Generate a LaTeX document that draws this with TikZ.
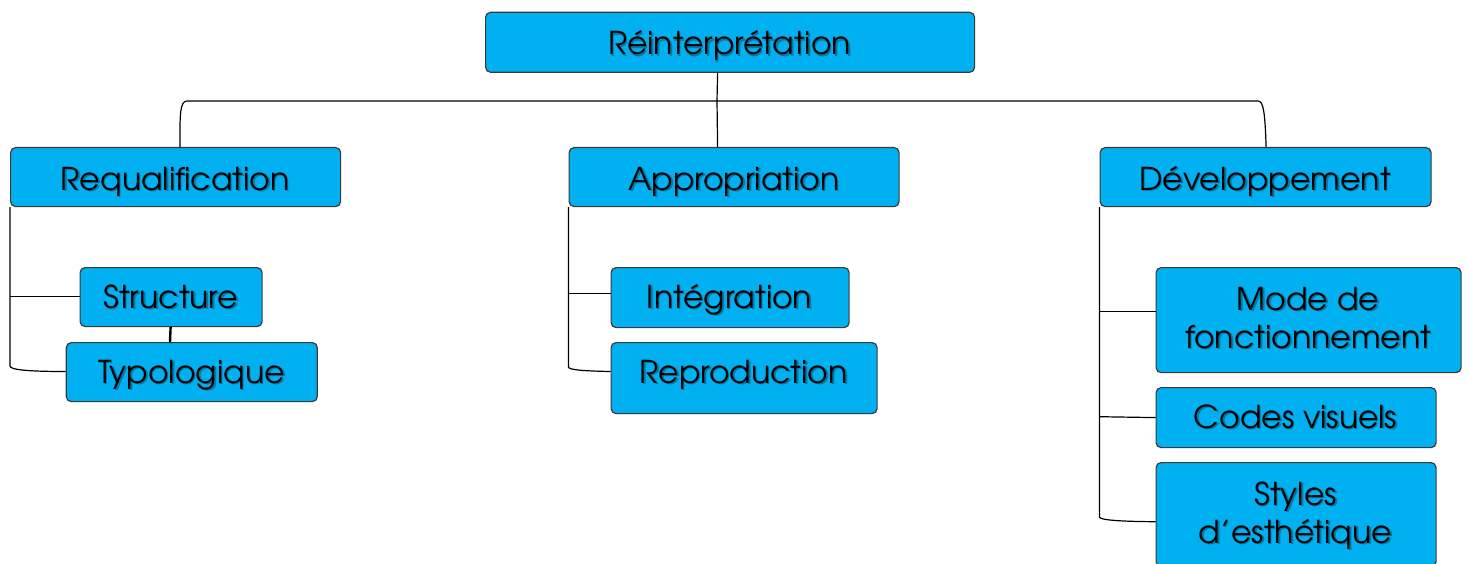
\documentclass[tikz,border=0pt]{standalone}
\usepackage{fontspec}
\setmainfont{texgyreadventor-regular.otf}
\definecolor{boxblue}{HTML}{00B0F0}
\definecolor{boxedge}{HTML}{3A3A3A}
\tikzset{
  box/.style={draw=boxedge, fill=boxblue, line width=1.2pt, rounded corners=5pt, inner sep=0pt, anchor=north west},
  txtfg/.style={anchor=base, inner sep=0pt, text=black, font=\fontsize{31.5}{36}\selectfont},
  txtsh/.style={anchor=base, inner sep=0pt, text=black, opacity=0.3, font=\fontsize{31.5}{36}\selectfont},
  conn/.style={draw=black, line width=1.2pt}
}
\newcommand\btext[4]{%
  \node[txtsh] (#1s) at (#2+1.6,#3+1.6) {#4};
  \node[txtfg] (#1) at (#2,#3) {#4};}
\begin{document}
\begin{tikzpicture}[x=1pt,y=-1pt]
\useasboundingbox (0,0) rectangle (1466,564);
\clip (0,0) rectangle (1466,564);
\coordinate (hl) at (187,101);
\coordinate (hr) at (1258,101);
\coordinate (hc) at (717,101);
% boxes
\node[box, minimum width=489pt, minimum height=60pt] (top) at (485,11.7) {};
\node[box, minimum width=330pt, minimum height=59pt] (req) at (10,147) {};
\node[box, minimum width=330pt, minimum height=59pt] (app) at (568.5,147) {};
\node[box, minimum width=238pt, minimum height=60pt] (int) at (610.5,267) {};
\node[box, minimum width=266pt, minimum height=71pt] (rep) at (610.5,342) {};
\node[box, minimum width=331pt, minimum height=59pt] (dev) at (1099.5,147) {};
\node[box, minimum width=305pt, minimum height=105pt] (mode) at (1155.5,267) {};
\node[box, minimum width=280pt, minimum height=60pt] (codes) at (1155.5,387) {};
\node[box, minimum width=280pt, minimum height=104pt] (sty) at (1155.5,462) {};
% top connectors
\draw[conn] ([xshift=-12.5pt]top.south) -- (hc) -- ([xshift=-16.5pt]app.north);
\draw[conn] ([xshift=4.5pt]req.north) .. controls (179.5,112) and (180.5,101) .. (hl) -- (hr) .. controls (1263,101) and (1265,110) .. ([xshift=0.5pt]dev.north);
% Requalification branch
\draw[conn] (req.south west) -- (10,366) .. controls (10,370) and (30,371.5) .. (65.7,371.5);
\draw[conn] (10,296.5) -- (79.5,296.5);
% Appropriation branch
\draw[conn] (app.south west) -- (568.5,367) .. controls (568.5,370) and (585,371) .. (rep.west |- 0,371.5);
\draw[conn] (568.5,293.5) -- (int.west |- 0,293.5);
% Developpement branch
\draw[conn] (dev.south west) -- (1099.5,517) .. controls (1099.5,520) and (1120,521.5) .. (sty.west |- 0,521.7);
\draw[conn] (1099.5,311.7) -- (mode.west |- 0,311.7);
\draw[conn] (1099.5,416.7) -- (codes.west);
% Structure / Typologique
\node[box, minimum width=182pt, minimum height=59pt] (str) at (79.5,267) {};
\node[box, minimum width=251pt, minimum height=59pt] (typ) at (65.7,342) {};
\draw[draw=black, line width=2.4pt] ([xshift=-0.5pt]str.south) -- (typ.north -| 170,0);
% texts
\btext{tt}{729.5}{55}{Réinterprétation}
\btext{reqt}{175}{190}{Requalification}
\btext{strt}{170.5}{308}{Structure}
\btext{typt}{191.5}{383}{Typologique}
\btext{appt}{734}{190}{Appropriation}
\btext{intt}{729.5}{308}{Intégration}
\btext{rept}{743.5}{383}{Reproduction}
\btext{devt}{1265}{190}{Développement}
\btext{modet}{1308}{310}{Mode de}
\btext{modet2}{1308}{348}{fonctionnement}
\btext{codest}{1295.5}{428}{Codes visuels}
\btext{styt}{1295.5}{505}{Styles}
\btext{styt2}{1295.5}{543}{d’esthétique}
\end{tikzpicture}
\end{document}
